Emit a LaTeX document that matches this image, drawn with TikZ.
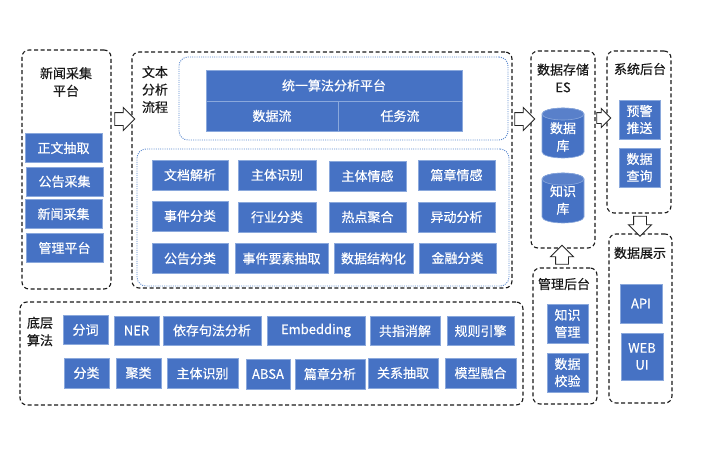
\documentclass[tikz,border=0pt]{standalone}
\usepackage{fontspec}
\newfontfamily\cjk[FakeBold=0.5]{Noto Sans CJK SC}
\usetikzlibrary{shapes.geometric,shapes.arrows}
\definecolor{bbox}{HTML}{4672C4}
\definecolor{bedge}{HTML}{8AA8DC}
\definecolor{dotblue}{HTML}{5A88CF}
\begin{document}
\begin{tikzpicture}[x=1pt,y=-1pt,
 blk/.style={draw=bedge, line width=0.6pt, fill=bbox, text=white, inner sep=0pt, align=center, font=\cjk\fontsize{13}{17}\selectfont},
 outerbox/.style={draw=black!90, line width=1.1pt, dash pattern=on 4pt off 2.6pt, rounded corners=7pt, inner sep=0pt},
 innerbox/.style={draw=dotblue, line width=0.9pt, dash pattern=on 1pt off 1.2pt, rounded corners=9pt, inner sep=0pt},
 ttl/.style={font=\cjk\fontsize{13}{17.5}\selectfont, align=center, inner sep=0pt, text=black!90},
 harrow/.style={single arrow, draw=black!85, fill=white, line width=0.9pt, inner xsep=0pt, inner ysep=6pt, single arrow head extend=5pt, minimum height=20pt},
 cylbody/.style={fill=bbox, draw=bedge, line width=0.6pt},
 cyltop/.style={fill=bbox!90!white, draw=bedge, line width=0.6pt}
]
\useasboundingbox (0,0) rectangle (720,450);
\fill[white] (0,0) rectangle (720,450);

% ---- Box 1: news collection
\node[outerbox, minimum width=89, minimum height=239] (p1) at (66.5,169.5) {};
\node[ttl] (t1) at (66,82) {新闻采集\\平台};
\node[blk, minimum width=77, minimum height=29] (a1) at (63.5,148) {正文抽取};
\node[blk, minimum width=77, minimum height=29] (a2) at (64.5,181.5) {公告采集};
\node[blk, minimum width=77, minimum height=29] (a3) at (63.5,214) {新闻采集};
\node[blk, minimum width=77, minimum height=29] (a4) at (64.5,248) {管理平台};

% ---- Box 2: text analysis
\node[outerbox, minimum width=380, minimum height=236] (p2) at (322,170) {};
\node[ttl] (t2) at (155,89.5) {文本\\分析\\流程};
\node[innerbox, minimum width=329, minimum height=83] (i1) at (343.5,98.5) {};
\node[blk, minimum width=256, minimum height=31] (u0) at (334,85.5) {统一算法分析平台};
\node[blk, minimum width=132, minimum height=30] (u1) at (272,116) {数据流};
\node[blk, minimum width=124, minimum height=30] (u2) at (400,116) {任务流};
\node[innerbox, minimum width=372, minimum height=137] (i2) at (323,217.5) {};
\node[blk, minimum width=76, minimum height=30] (g11) at (190,175) {文档解析};
\node[blk, minimum width=78, minimum height=30] (g12) at (277,175) {主体识别};
\node[blk, minimum width=77, minimum height=30] (g13) at (367.5,176) {主体情感};
\node[blk, minimum width=77, minimum height=30] (g14) at (456.5,175) {篇章情感};
\node[blk, minimum width=76, minimum height=30] (g21) at (190,216) {事件分类};
\node[blk, minimum width=78, minimum height=30] (g22) at (277,217) {行业分类};
\node[blk, minimum width=77, minimum height=30] (g23) at (367.5,217) {热点聚合};
\node[blk, minimum width=77, minimum height=30] (g24) at (456.5,217) {异动分析};
\node[blk, minimum width=76, minimum height=30] (g31) at (190,258.5) {公告分类};
\node[blk, minimum width=93, minimum height=30] (g32) at (281.5,258.5) {事件要素抽取};
\node[blk, minimum width=79, minimum height=30] (g33) at (373.5,258.5) {数据结构化};
\node[blk, minimum width=77, minimum height=30] (g34) at (457.5,258) {金融分类};

% ---- Box 3: storage
\node[outerbox, minimum width=64, minimum height=197] (p3) at (563,149.5) {};
\node[ttl] (t3) at (563,78) {数据存储\\ES};
% cylinder 1 (y 108-158)
\draw[cylbody] (542,114) -- (542,152) arc[start angle=180,end angle=360,x radius=21pt,y radius=6pt] -- (584,114) arc[start angle=0,end angle=180,x radius=21pt,y radius=6pt] -- cycle;
\draw[cyltop] (563,114) ellipse[x radius=21pt,y radius=6pt];
\node[ttl, text=white] (c1t) at (563,137) {数据\\库};
% cylinder 2 (y 173-223)
\draw[cylbody] (542,179) -- (542,217) arc[start angle=180,end angle=360,x radius=21pt,y radius=6pt] -- (584,179) arc[start angle=0,end angle=180,x radius=21pt,y radius=6pt] -- cycle;
\draw[cyltop] (563,179) ellipse[x radius=21pt,y radius=6pt];
\node[ttl, text=white] (c2t) at (563,200) {知识\\库};

% ---- Box 4: system backend
\node[outerbox, minimum width=64, minimum height=162] (p4) at (639,132) {};
\node[ttl] (t4) at (640,69) {系统后台};
\node[blk, minimum width=41, minimum height=39] (s1) at (639.5,119.5) {预警\\推送};
\node[blk, minimum width=41, minimum height=39] (s2) at (639.5,167.5) {数据\\查询};

% ---- Box 5: data display
\node[outerbox, minimum width=63, minimum height=169] (p5) at (640.5,318.5) {};
\node[ttl] (t5) at (640,253) {数据展示};
\node[blk, minimum width=42, minimum height=39] (d1) at (641,303.5) {API};
\node[blk, minimum width=42, minimum height=47] (d2) at (642,356.5) {WEB\\UI};

% ---- Box 6: management backend
\node[outerbox, minimum width=64, minimum height=136] (p6) at (565,336) {};
\node[ttl] (t6) at (564,284) {管理后台};
\node[blk, minimum width=41, minimum height=39] (m1) at (567.5,323.5) {知识\\管理};
\node[blk, minimum width=41, minimum height=39] (m2) at (567.5,372.5) {数据\\校验};

% ---- Box 7: base algorithms
\node[outerbox, minimum width=503, minimum height=103] (p7) at (271.5,353.5) {};
\node[ttl] (t7) at (40,331.5) {底层\\算法};
\node[blk, minimum width=45, minimum height=29] (b11) at (85.5,330) {分词};
\node[blk, minimum width=45, minimum height=29] (b12) at (136.5,330.5) {NER};
\node[blk, minimum width=98, minimum height=29] (b13) at (212,330.5) {依存句法分析};
\node[blk, minimum width=98, minimum height=29] (b14) at (316,330.5) {Embedding};
\node[blk, minimum width=70, minimum height=29] (b15) at (405,331) {共指消解};
\node[blk, minimum width=67, minimum height=29] (b16) at (480.5,331) {规则引擎};
\node[blk, minimum width=45, minimum height=30] (b21) at (86.5,373) {分类};
\node[blk, minimum width=45, minimum height=30] (b22) at (138.5,373) {聚类};
\node[blk, minimum width=71, minimum height=30] (b23) at (202.5,373.5) {主体识别};
\node[blk, minimum width=44, minimum height=30] (b24) at (268,374) {ABSA};
\node[blk, minimum width=70, minimum height=30] (b25) at (330,374) {篇章分析};
\node[blk, minimum width=70, minimum height=30] (b26) at (403,373) {关系抽取};
\node[blk, minimum width=71, minimum height=30] (b27) at (480.5,373) {模型融合};

% ---- hollow arrows
\node[harrow] (h1) at (121.5,119) {};
\node[harrow] (h2) at (521.5,119) {};
\node[harrow, minimum height=14pt, inner ysep=5pt, single arrow head extend=4pt] (h3) at (601,118) {};
\node[harrow, rotate=-90] (h4) at (640,223) {};
\node[harrow, rotate=90, minimum height=19pt] (h5) at (562,258) {};
\end{tikzpicture}
\end{document}
